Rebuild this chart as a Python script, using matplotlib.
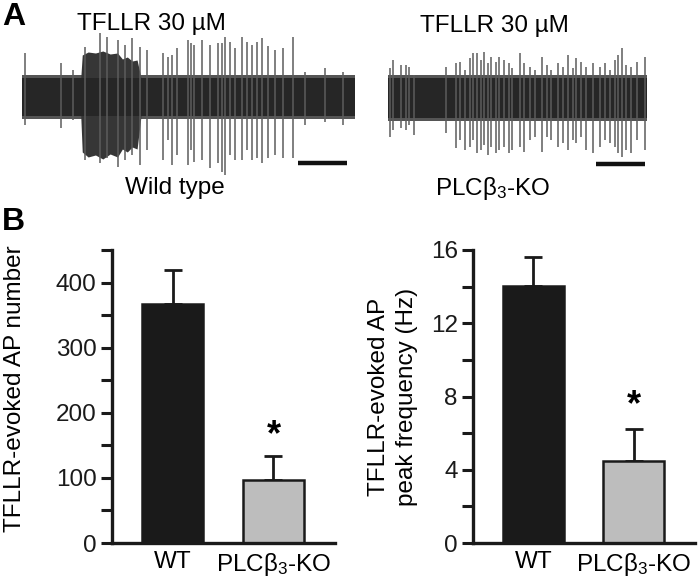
import matplotlib
matplotlib.use("Agg")
import matplotlib.pyplot as plt
import numpy as np

plt.rcParams['font.family'] = ['Liberation Sans', 'DejaVu Sans']
plt.rcParams['mathtext.default'] = 'regular'
plt.rcParams['mathtext.fontset'] = 'custom'
plt.rcParams['mathtext.rm'] = 'Liberation Sans'

# ---- panel A: extracellular recordings (time in s, amplitude in a.u.) ----
wt_len = 68.0
wt_noise = 19
wt_burst_t = [12.0, 12.3, 13.5, 15.0, 16.5, 18.0, 19.5, 20.5, 21.5, 22.5, 23.5, 24.3]
wt_burst_hi = [19, 42, 45, 44, 46, 43, 44, 38, 40, 36, 37, 19]
wt_burst_lo = [-19, -55, -60, -58, -62, -57, -60, -52, -55, -50, -52, -19]
wt_spike_t = [0.6, 8.0, 10.4, 12.9, 15.9, 17.3, 19.6, 21.0, 22.4, 24.1, 25.5,
              28.8, 29.8, 30.6, 31.6, 33.9, 34.5, 35.1, 36.7, 38.4, 40.0, 40.8,
              41.4, 42.4, 43.5, 44.9, 45.9, 46.9, 48.0, 49.0, 50.2, 51.6, 53.3,
              55.3, 57.8, 61.8, 65.5]
wt_spike_hi = [44, 34, 27, 50, 64, 60, 57, 52, 59, 50, 47, 44, 40, 42, 49, 57,
               54, 52, 57, 52, 54, 54, 60, 55, 49, 60, 55, 52, 55, 59, 51, 47,
               49, 60, 25, 29, 25]
wt_spike_lo = [-28, -31, -23, -63, -66, -61, -70, -63, -58, -68, -53, -63, -43,
               -68, -58, -68, -53, -65, -63, -71, -66, -75, -78, -58, -63, -63,
               -53, -63, -61, -66, -61, -58, -61, -61, -28, -25, -28]

ko_len = 52.9
ko_noise = 20
ko_spike_t = [0.4, 1.1, 2.6, 3.6, 4.3, 5.3, 11.8, 13.8, 14.8, 15.8, 16.7, 17.4,
              18.2, 18.9, 19.7, 20.4, 21.1, 22.0, 22.6, 23.7, 24.7, 25.4, 26.9,
              27.8, 29.0, 30.0, 31.5, 32.4, 33.3, 34.8, 35.8, 36.8, 37.8, 38.5,
              39.5, 40.4, 41.9, 43.3, 44.3, 45.3, 46.3, 47.0, 47.8, 48.7, 49.7,
              50.8, 52.4]
ko_spike_hi = [30, 38, 33, 33, 31, 23, 31, 35, 36, 28, 40, 45, 45, 38, 46, 35,
               41, 36, 41, 38, 35, 30, 45, 35, 31, 28, 41, 33, 28, 35, 31, 43,
               30, 40, 36, 31, 35, 31, 35, 28, 38, 43, 50, 33, 31, 36, 41]
ko_spike_lo = [-39, -32, -30, -32, -27, -37, -35, -50, -42, -52, -49, -42, -55,
               -52, -47, -57, -49, -55, -52, -49, -55, -52, -49, -54, -42, -39,
               -54, -39, -42, -49, -45, -52, -42, -45, -39, -52, -55, -49, -42,
               -45, -49, -55, -59, -52, -55, -42, -52]
scale_bar_s = 10

# ---- panel B: bar charts ----
groups = ['WT', 'PLCβ$_3$-KO']
ap_number = [367, 96]
ap_number_sem = [52, 37]
ap_freq = [14.05, 4.5]
ap_freq_sem = [1.55, 1.75]

W, H = 700, 582
fig = plt.figure(figsize=(W / 100, H / 100), dpi=100)


def px_axes(x0, y0, x1, y1):
    return fig.add_axes([x0 / W, 1 - y1 / H, (x1 - x0) / W, (y1 - y0) / H])


def draw_trace(ax, length, noise, st, shi, slo, burst=None, bar_start=0):
    # soft rim of the noise band
    ax.fill_between([0, length], [noise + 3, noise + 3], [-noise - 3, -noise - 3],
                    color='#555555', lw=0)
    if burst is not None:
        bt, bhi, blo = burst
        ax.fill_between(bt, bhi, blo, color='#363636', lw=0)
    ax.vlines(st, slo, shi, color='#5c5c5c', lw=1.1)
    ax.fill_between([0, length], [noise, noise], [-noise, -noise],
                    color='#262626', lw=0)
    ax.plot([bar_start, bar_start + scale_bar_s], [-66, -66], color='#111111',
            lw=3.2, solid_capstyle='butt')
    ax.set_xlim(0, length)
    ax.set_ylim(-80, 70)
    ax.axis('off')


ax_wt = px_axes(22, 27, 355, 177)
draw_trace(ax_wt, wt_len, wt_noise, wt_spike_t, wt_spike_hi, wt_spike_lo,
           burst=(wt_burst_t, wt_burst_hi, wt_burst_lo), bar_start=56.3)
ax_ko = px_axes(388, 28, 647, 178)
draw_trace(ax_ko, ko_len, ko_noise, ko_spike_t, ko_spike_hi, ko_spike_lo,
           bar_start=42.4)

fs = 17.5
fig.text(151 / W, 1 - 24 / H, 'TFLLR 30 µM', fontsize=fs, ha='center', va='center')
fig.text(494 / W, 1 - 26 / H, 'TFLLR 30 µM', fontsize=fs, ha='center', va='center')
fig.text(175 / W, 1 - 188 / H, 'Wild type', fontsize=fs, ha='center', va='center')
fig.text(493 / W, 1 - 188 / H, 'PLCβ$_3$-KO', fontsize=fs, ha='center', va='center')
fig.text(2 / W, 1 - 17 / H, 'A', fontsize=23, fontweight='bold', ha='left', va='center')
fig.text(2 / W, 1 - 222 / H, 'B', fontsize=23, fontweight='bold', ha='left', va='center')


def draw_bars(ax, vals, errs, ymax, major, minor, star_y):
    x = np.arange(len(vals))
    ax.bar(x, vals, width=0.61, color=['#1a1a1a', '#bdbdbd'],
           edgecolor='#1a1a1a', linewidth=1.8, zorder=2)
    ax.errorbar(x, vals, yerr=[np.zeros(len(errs)), errs], fmt='none',
                ecolor='#1a1a1a', elinewidth=2.0, capsize=6.5, capthick=2.0, zorder=1)
    ax.text(x[1], star_y, '*', fontsize=26, fontweight='bold', ha='center', va='center')
    ax.set_xlim(-0.6, 1.61)
    ax.set_ylim(0, ymax)
    ax.set_yticks(major)
    ax.set_yticks(minor, minor=True)
    ax.set_xticks(x)
    ax.set_xticklabels(groups, fontsize=fs)
    ax.tick_params(axis='y', which='both', direction='out', length=8, width=2.2,
                   labelsize=fs, pad=3, colors='#1a1a1a')
    ax.tick_params(axis='x', length=0, pad=6)
    for s in ['top', 'right']:
        ax.spines[s].set_visible(False)
    for s in ['left', 'bottom']:
        ax.spines[s].set_linewidth(2.4)
        ax.spines[s].set_color('#1a1a1a')


ax1 = px_axes(112, 250, 335, 543)
draw_bars(ax1, ap_number, ap_number_sem, 450, np.arange(0, 401, 100),
          np.arange(50, 451, 100), 165)
ax2 = px_axes(473, 250, 695, 543)
draw_bars(ax2, ap_freq, ap_freq_sem, 16, np.arange(0, 17, 4),
          np.arange(2, 15, 4), 7.5)

fig.text(15 / W, 1 - 389 / H, 'TFLLR-evoked AP number', fontsize=fs,
         rotation=90, ha='center', va='center')
fig.text(393 / W, 1 - 397 / H, 'TFLLR-evoked AP\npeak frequency (Hz)', fontsize=fs,
         rotation=90, ha='center', va='center', linespacing=1.3)

fig.savefig('out.png', dpi=100)
